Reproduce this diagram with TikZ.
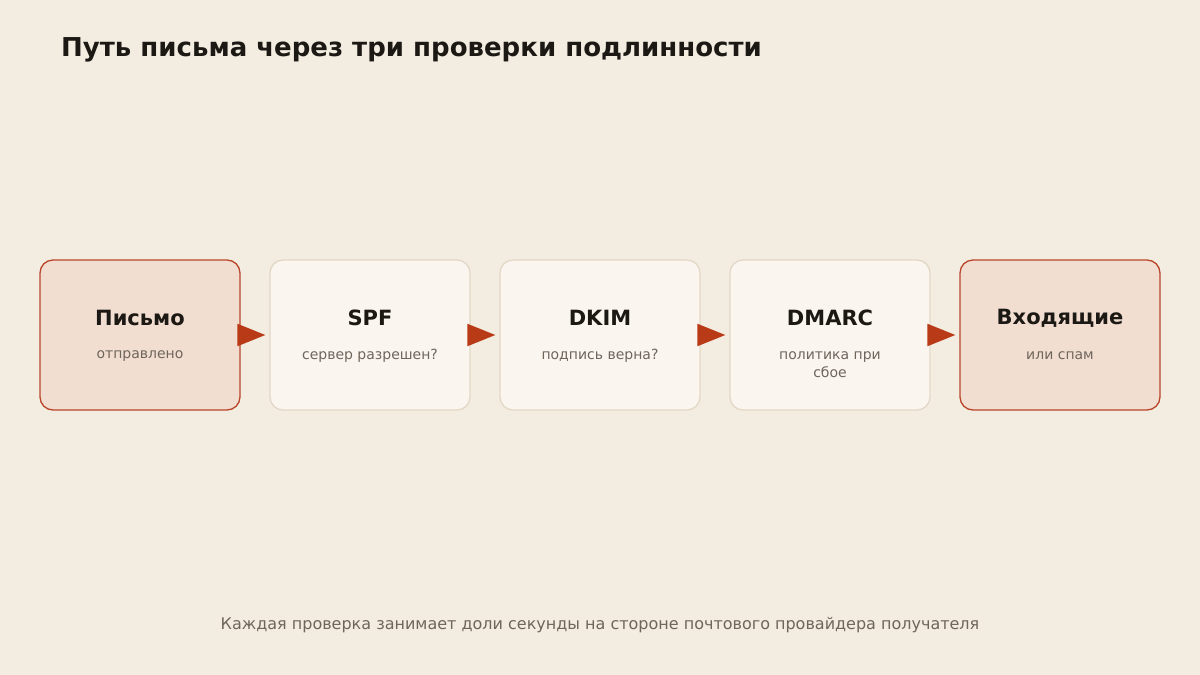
\documentclass[tikz,border=0pt]{standalone}
\usepackage{fontspec}
\setmainfont{DejaVu Sans}
\usetikzlibrary{arrows.meta}
\definecolor{bg}{HTML}{F3ECE1}
\definecolor{accfill}{HTML}{F2DED1}
\definecolor{accline}{HTML}{B8452A}
\definecolor{neufill}{HTML}{FAF6EF}
\definecolor{neuline}{HTML}{E3D8C6}
\definecolor{arrowc}{HTML}{B83A16}
\definecolor{ink}{HTML}{1C1915}
\definecolor{muted}{HTML}{6E655C}
\tikzset{
  box/.style={rounded corners=13pt, minimum width=200pt, minimum height=150pt, inner sep=0pt, line width=1.3pt},
  accbox/.style={box, draw=accline, fill=accfill},
  neubox/.style={box, draw=neuline, fill=neufill},
  boxtitle/.style={text=ink, font=\fontsize{21}{25}\selectfont\bfseries, anchor=center},
  boxsub/.style={text=muted, font=\fontsize{14}{18}\selectfont, anchor=center, align=center},
  arr/.style={draw=arrowc, line width=2pt, -{Triangle[length=28pt,width=22pt]}, shorten >=4pt},
}
\begin{document}
\begin{tikzpicture}[x=1pt,y=-1pt]
\path[fill=bg] (0,0) rectangle (1200,675);
\useasboundingbox (0,0) rectangle (1200,675);
\node[anchor=base west, text=ink, font=\fontsize{26}{31}\selectfont\bfseries, inner sep=0pt] (title) at (61,56) {Путь письма через три проверки подлинности};

\node[accbox] (b1) at (140,335) {};
\node[neubox] (b2) at (370,335) {};
\node[neubox] (b3) at (600,335) {};
\node[neubox] (b4) at (830,335) {};
\node[accbox] (b5) at (1060,335) {};

\node[boxtitle] (t1) at (140,318) {Письмо};
\node[boxsub] (s1) at (140,356) {отправлено};
\node[boxtitle] (t2) at (370,318) {SPF};
\node[boxsub] (s2) at (370,356) {сервер разрешен?};
\node[boxtitle] (t3) at (600,318) {DKIM};
\node[boxsub] (s3) at (600,356) {подпись верна?};
\node[boxtitle] (t4) at (830,318) {DMARC};
\node[boxsub] (s4) at (830,365) {политика при\\сбое};
\node[boxtitle] (t5) at (1060,318) {Входящие};
\node[boxsub] (s5) at (1060,356) {или спам};

\draw[arr] (b1.east) -- (b2.west);
\draw[arr] (b2.east) -- (b3.west);
\draw[arr] (b3.east) -- (b4.west);
\draw[arr] (b4.east) -- (b5.west);

\node[text=muted, font=\fontsize{16}{19}\selectfont, anchor=center] (foot) at (600,625) {Каждая проверка занимает доли секунды на стороне почтового провайдера получателя};
\end{tikzpicture}
\end{document}
